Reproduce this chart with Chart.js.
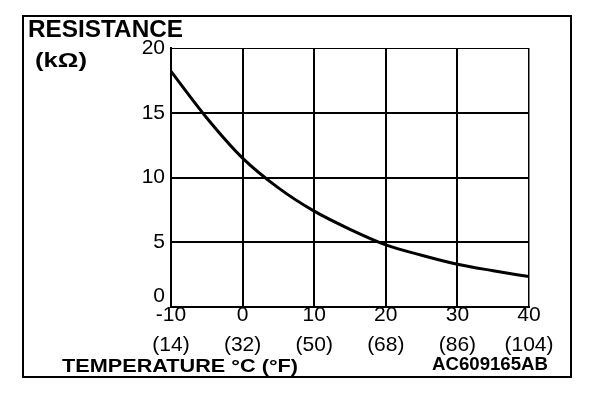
<!DOCTYPE html>
<html>
<head>
<meta charset="utf-8">
<script src="https://cdn.jsdelivr.net/npm/chart.js@4"></script>
<style>
  html, body { margin: 0; padding: 0; background: #fff; }
  #wrap { width: 608px; height: 394px; }
</style>
</head>
<body>
<div id="wrap"><canvas id="chart" width="608" height="394"></canvas></div>
<script>
// temperature (°C) and resistance (kΩ)
var tempC = [-10, -5, 0, 5, 10, 15, 20, 25, 30, 35, 40];
var resistance = [18.2, 14.6, 11.5, 9.2, 7.4, 6.0, 4.8, 4.0, 3.3, 2.8, 2.35];

// axis tick labels
var tickC = [-10, 0, 10, 20, 30, 40];
var tickF = ["(14)", "(32)", "(50)", "(68)", "(86)", "(104)"];

var FONT = '"Liberation Sans", Arial, Helvetica, sans-serif';

// draws text so it spans a given width (the original lettering is a bit wide)
function fitText(ctx, text, x, baseline, width, font) {
    ctx.save();
    ctx.font = font;
    var w = ctx.measureText(text).width;
    ctx.translate(x, baseline);
    ctx.scale(width / w, 1);
    ctx.textAlign = "left";
    ctx.textBaseline = "alphabetic";
    ctx.fillStyle = "#000";
    ctx.fillText(text, 0, 0);
    ctx.restore();
}

var frame = {
    id: "frame",
    afterDraw: function(chart) {
        var ctx = chart.ctx;
        ctx.save();
        ctx.strokeStyle = "#000";
        ctx.lineWidth = 2;
        ctx.strokeRect(23, 16, 548, 361);
        ctx.restore();

        fitText(ctx, "RESISTANCE", 28, 37, 155, "bold 23px " + FONT);
        fitText(ctx, "(k\u03A9)", 35, 67, 52, "bold 21px " + FONT);
        fitText(ctx, "TEMPERATURE \u00B0C (\u00B0F)", 62, 372, 236, "bold 18px " + FONT);
        fitText(ctx, "AC609165AB", 432, 370, 116, "bold 18px " + FONT);
    }
};

var points = tempC.map(function(t, i) { return {x: t, y: resistance[i]}; });

new Chart(document.getElementById("chart").getContext("2d"), {
    type: "line",
    data: {
        datasets: [{
            data: points,
            borderColor: "#000",
            borderWidth: 3,
            pointRadius: 0,
            fill: false,
            cubicInterpolationMode: "monotone"
        }]
    },
    options: {
        responsive: false,
        animation: false,
        layout: { padding: { left: 0, right: 79, top: 48, bottom: 0 } },
        plugins: {
            legend: { display: false },
            tooltip: { enabled: false }
        },
        scales: {
            x: {
                type: "linear",
                min: -10,
                max: 40,
                afterFit: function(scale) { scale.height = 87; },
                afterBuildTicks: function(scale) {
                    scale.ticks = tickC.map(function(v) { return {value: v}; });
                },
                border: { color: "#000", width: 2 },
                grid: {
                    color: "#000",
                    drawTicks: false,
                    lineWidth: function(c) { return c.tick && c.tick.value === 40 ? 1.5 : 2; }
                },
                ticks: {
                    color: "#000",
                    padding: -7,
                    maxRotation: 0,
                    autoSkip: false,
                    font: { family: FONT, size: 21, lineHeight: 1.45 },
                    callback: function(v) {
                        var i = tickC.indexOf(v);
                        return [String(v), tickF[i]];
                    }
                }
            },
            y: {
                min: 0,
                max: 20,
                afterFit: function(scale) { scale.width = 171; },
                border: { color: "#000", width: 2 },
                grid: {
                    color: "#000",
                    drawTicks: false,
                    lineWidth: function(c) { return c.tick && c.tick.value === 20 ? 1 : 2; }
                },
                ticks: {
                    color: "#000",
                    stepSize: 5,
                    padding: 6,
                    font: { family: FONT, size: 21, lineHeight: 1 },
                    // the "0" sits a little above its grid line in the original
                    callback: function(v) { return v === 0 ? ["0", ""] : String(v); }
                }
            }
        }
    },
    plugins: [frame]
});
</script>
</body>
</html>
